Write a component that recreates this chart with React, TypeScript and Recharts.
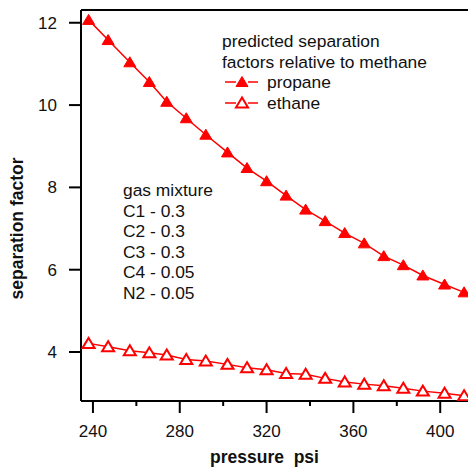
import React from "react";
import {
  LineChart,
  Line,
  XAxis,
  YAxis,
  Legend,
  ReferenceLine,
} from "recharts";

// pressure (psi) for each point
const pressure = [238, 247, 257, 266, 274, 283, 292, 302, 311, 320, 329, 338, 347, 356, 365, 374, 383, 392, 402, 411];

// predicted separation factors relative to methane
const propane = [12.07, 11.58, 11.04, 10.56, 10.08, 9.68, 9.28, 8.85, 8.47, 8.15, 7.8, 7.46, 7.18, 6.89, 6.64, 6.33, 6.11, 5.86, 5.64, 5.45];
const ethane = [4.21, 4.13, 4.03, 3.98, 3.93, 3.82, 3.78, 3.7, 3.62, 3.57, 3.48, 3.46, 3.36, 3.27, 3.22, 3.18, 3.12, 3.05, 3.0, 2.94];

const xTicks = [240, 260, 280, 300, 320, 340, 360, 380, 400];
const yTicks = [4, 6, 8, 10, 12];

const seriesOrder = ["propane", "ethane"];
const legendTitle = ["predicted separation", "factors relative to methane"];
const mixture = ["gas mixture", "C1 - 0.3", "C2 - 0.3", "C3 - 0.3", "C4 - 0.05", "N2 - 0.05"];

const data = pressure.map((p, i) => ({ pressure: p, propane: propane[i], ethane: ethane[i] }));

const RED = "#ff0000";
const FONT = "'Liberation Sans', Arial, sans-serif";

const Tri = ({ cx, cy, filled }: { cx: number; cy: number; filled: boolean }) => {
  if (cx == null || cy == null) return null;
  const pts = `${cx},${cy - 5.5} ${cx - 6},${cy + 4.5} ${cx + 6},${cy + 4.5}`;
  return filled ? (
    <polygon points={pts} fill={RED} stroke={RED} strokeWidth={1} />
  ) : (
    <polygon points={pts} fill="#fff" stroke={RED} strokeWidth={2} />
  );
};

const XTick = (props: any) => {
  const { x, y, payload } = props;
  const major = payload.value % 40 === 0;
  return (
    <g>
      <line x1={x} x2={x} y1={y} y2={y + (major ? 12 : 5)} stroke="#000" strokeWidth={2} />
      {major && (
        <text x={x} y={y + 36} textAnchor="middle" fontSize={17} fill="#111" fontFamily={FONT}>
          {payload.value}
        </text>
      )}
    </g>
  );
};

const renderLegend = (props: any) => {
  const items = [...(props.payload || [])].sort(
    (a: any, b: any) => seriesOrder.indexOf(a.value) - seriesOrder.indexOf(b.value)
  );
  return (
    <div style={{ fontFamily: FONT, fontSize: 17.4, lineHeight: "20.6px", color: "#111", whiteSpace: "nowrap" }}>
      {legendTitle.map((t) => (
        <div key={t}>{t}</div>
      ))}
      {items.map((entry: any) => (
        <div key={entry.value} style={{ display: "flex", alignItems: "center", height: 20.6 }}>
          <svg width={36} height={20} style={{ marginLeft: 2 }}>
            <line x1={1} x2={12} y1={10} y2={10} stroke={RED} strokeWidth={1.5} />
            <line x1={24} x2={34} y1={10} y2={10} stroke={RED} strokeWidth={1.5} />
            <Tri cx={18} cy={10} filled={entry.value === "propane"} />
          </svg>
          <span style={{ marginLeft: 7 }}>{entry.value}</span>
        </div>
      ))}
    </div>
  );
};

export default function App() {
  return (
    <div style={{ position: "absolute", left: 0, top: 0, width: 468, height: 467, overflow: "hidden", background: "#fff" }}>
      <LineChart width={468} height={467} data={data} margin={{ top: 10, right: 0, bottom: 0, left: 0 }}>
        <XAxis
          dataKey="pressure"
          type="number"
          domain={[234.5, 412.8]}
          allowDataOverflow
          ticks={xTicks}
          interval={0}
          height={66}
          tickSize={0}
          tickMargin={0}
          tick={<XTick />}
          axisLine={{ stroke: "#000", strokeWidth: 2 }}
          label={{
            content: (p: any) => {
              const vb = p.viewBox;
              return (
                <text
                  x={vb.x + vb.width / 2 - 10}
                  y={vb.y + 62}
                  textAnchor="middle"
                  fontSize={17.5}
                  fontWeight="bold"
                  fill="#111"
                  fontFamily={FONT}
                  style={{ whiteSpace: "pre" }}
                >
                  {"pressure  psi"}
                </text>
              );
            },
          }}
        />
        <YAxis
          type="number"
          domain={[2.81, 12.31]}
          allowDataOverflow
          ticks={yTicks}
          width={81}
          tickSize={12}
          tickMargin={12}
          tickLine={{ stroke: "#000", strokeWidth: 2 }}
          axisLine={{ stroke: "#000", strokeWidth: 2 }}
          tick={{ fontSize: 17, fill: "#111", fontFamily: FONT }}
          label={{
            content: (p: any) => {
              const vb = p.viewBox;
              const cx = vb.x + 17;
              const cy = vb.y + vb.height / 2 + 23;
              return (
                <text
                  transform={`translate(${cx},${cy}) rotate(-90)`}
                  textAnchor="middle"
                  dominantBaseline="central"
                  fontSize={17.5}
                  fontWeight="bold"
                  fill="#111"
                  fontFamily={FONT}
                >
                  separation factor
                </text>
              );
            },
          }}
        />
        <ReferenceLine y={12.31} stroke="#000" strokeWidth={2} />
        <Legend
          layout="vertical"
          align="center"
          verticalAlign="middle"
          content={renderLegend}
          wrapperStyle={{ left: 222, top: 31, width: 240 }}
        />
        <Line
          name="propane"
          dataKey="propane"
          stroke={RED}
          strokeWidth={1.5}
          isAnimationActive={false}
          dot={(p: any) => <Tri key={`p${p.index}`} cx={p.cx} cy={p.cy} filled />}
        />
        <Line
          name="ethane"
          dataKey="ethane"
          stroke={RED}
          strokeWidth={1.5}
          isAnimationActive={false}
          dot={(p: any) => <Tri key={`e${p.index}`} cx={p.cx} cy={p.cy} filled={false} />}
        />
      </LineChart>
      <div
        style={{
          position: "absolute",
          left: 123,
          top: 180,
          fontFamily: FONT,
          fontSize: 17.4,
          lineHeight: "20.6px",
          color: "#111",
          whiteSpace: "nowrap",
        }}
      >
        {mixture.map((t) => (
          <div key={t}>{t}</div>
        ))}
      </div>
    </div>
  );
}
